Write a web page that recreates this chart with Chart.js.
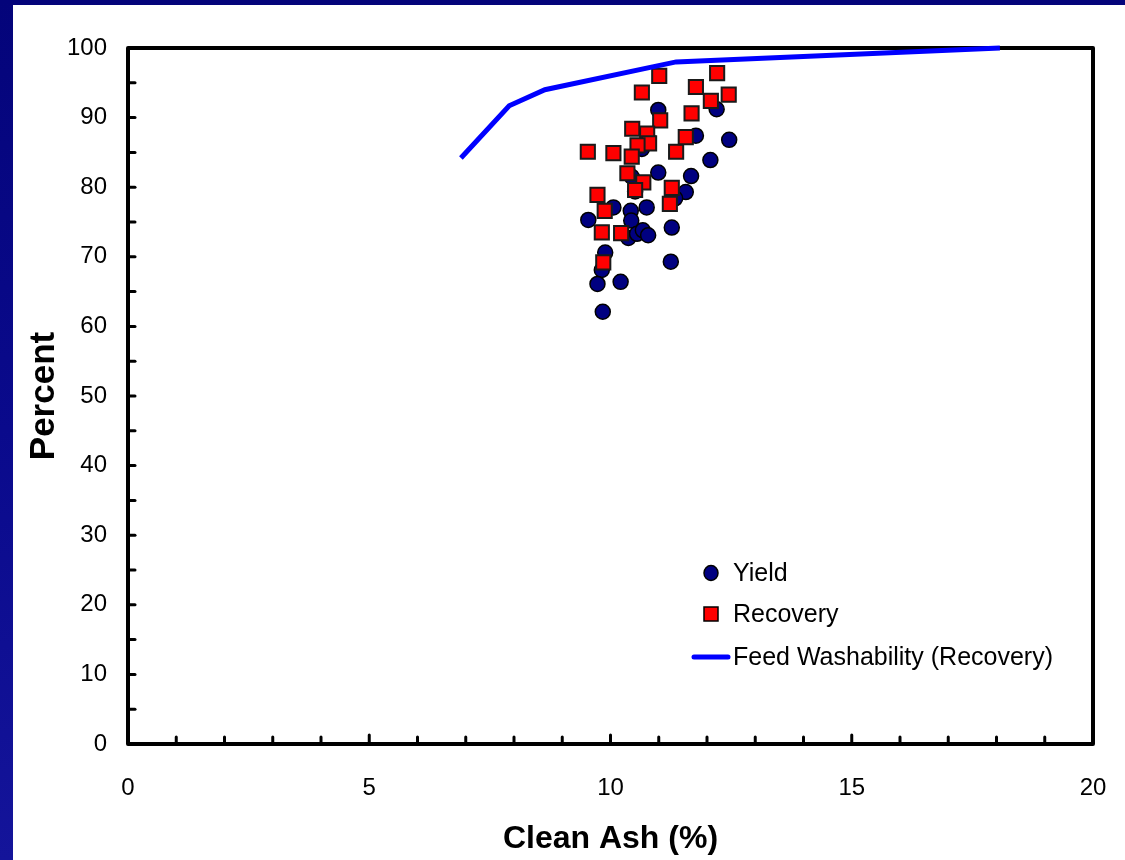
<!DOCTYPE html>
<html>
<head>
<meta charset="utf-8">
<script src="https://cdn.jsdelivr.net/npm/chart.js@4"></script>
<style>
  html, body { margin: 0; padding: 0; background: #fff; }
  canvas { display: block; }
</style>
</head>
<body>
<canvas id="ash-chart" width="1125" height="860"></canvas>
<script>
// Yield points (clean ash %, percent)
const yieldAsh = [10.99, 12.2, 11.77, 12.46, 12.07, 10.78, 10.65, 10.99, 11.67, 10.44, 11.56, 11.34, 10.51, 10.06, 10.75,
    10.42, 9.54, 10.43, 11.27, 10.37, 10.55, 10.67, 10.78, 9.89, 9.82, 9.73, 10.21, 9.84, 11.25];
const yieldPct = [91.1, 91.2, 87.4, 86.8, 83.9, 86.9, 85.5, 82.1, 81.6, 81.5, 79.3, 78.4, 79.4, 77.1, 77.1,
    76.6, 75.3, 75.2, 74.2, 72.7, 73.3, 73.8, 73.1, 70.6, 68.1, 66.1, 66.4, 62.1, 69.3];

// Recovery points
const recoveryAsh = [9.53, 10.06, 10.65, 11.01, 12.21, 11.77, 12.45, 12.08, 11.68, 11.03, 10.45, 10.76, 10.8, 10.56,
    11.36, 11.56, 10.44, 10.35, 10.68, 11.27, 10.51, 9.73, 9.88, 11.23, 9.82, 10.22, 9.85];
const recoveryPct = [85.1, 84.9, 93.6, 96.0, 96.4, 94.4, 93.3, 92.4, 90.6, 89.6, 88.4, 87.7, 86.3, 86.0,
    85.1, 87.2, 84.4, 82.0, 80.7, 79.9, 79.6, 78.9, 76.6, 77.6, 73.5, 73.4, 69.2];

// Feed washability curve
const feedAsh = [6.9, 7.9, 8.64, 11.36, 18.07];
const feedPct = [84.2, 91.7, 94.0, 98.0, 100];

const legendLabels = ['Yield', 'Recovery', 'Feed Washability (Recovery)'];

const FONT = "'Liberation Sans', Arial, sans-serif";

function toPoints(xs, ys) {
    return xs.map((x, i) => ({x: x, y: ys[i]}));
}

const backgroundPlugin = {
    id: 'slideBackground',
    beforeDraw(chart) {
        const ctx = chart.ctx;
        ctx.save();
        const g = ctx.createLinearGradient(0, 0, 0, chart.height);
        g.addColorStop(0, '#04047a');
        g.addColorStop(0.5, '#0a0a8c');
        g.addColorStop(1, '#14149a');
        ctx.fillStyle = g;
        ctx.fillRect(0, 0, chart.width, chart.height);
        ctx.fillStyle = '#ffffff';
        ctx.fillRect(13, 5, chart.width - 13, chart.height - 5);
        ctx.restore();
    }
};

const framePlugin = {
    id: 'frameAndTicks',
    beforeDatasetsDraw(chart) {
        const {ctx, chartArea: a, scales: {x, y}} = chart;
        ctx.save();
        ctx.strokeStyle = '#000';
        ctx.lineCap = 'round';
        ctx.lineWidth = 3;
        for (let v = 1; v < 20; v++) {
            const px = x.getPixelForValue(v);
            const len = v % 5 === 0 ? 9 : 7;
            ctx.beginPath();
            ctx.moveTo(px, a.bottom);
            ctx.lineTo(px, a.bottom - len);
            ctx.stroke();
        }
        for (let v = 5; v < 100; v += 5) {
            const py = y.getPixelForValue(v);
            ctx.beginPath();
            ctx.moveTo(a.left, py);
            ctx.lineTo(a.left + 7, py);
            ctx.stroke();
        }
        ctx.lineWidth = 4;
        ctx.lineCap = 'butt';
        ctx.lineJoin = 'round';
        ctx.strokeRect(a.left, a.top, a.right - a.left, a.bottom - a.top);
        ctx.restore();
    }
};

const legendPlugin = {
    id: 'insideLegend',
    afterDraw(chart) {
        const ctx = chart.ctx;
        const ds = chart.data.datasets;
        ctx.save();
        ctx.font = '25px ' + FONT;
        ctx.fillStyle = '#000';
        ctx.textBaseline = 'middle';
        const rows = [573, 614, 657];
        // circle
        ctx.beginPath();
        ctx.ellipse(711, rows[0], 7, 7.5, 0, 0, Math.PI * 2);
        ctx.fillStyle = ds[0].backgroundColor;
        ctx.fill();
        ctx.lineWidth = 1.5;
        ctx.strokeStyle = '#000';
        ctx.stroke();
        // square
        ctx.fillStyle = ds[1].backgroundColor;
        ctx.fillRect(704, rows[1] - 7, 14, 14);
        ctx.strokeRect(704, rows[1] - 7, 14, 14);
        // line
        ctx.beginPath();
        ctx.moveTo(694, rows[2]);
        ctx.lineTo(728, rows[2]);
        ctx.lineWidth = 5;
        ctx.lineCap = 'round';
        ctx.strokeStyle = ds[2].borderColor;
        ctx.stroke();
        ctx.fillStyle = '#000';
        legendLabels.forEach((t, i) => ctx.fillText(t, 733, rows[i] + 1));
        ctx.restore();
    }
};

const ctx = document.getElementById('ash-chart').getContext('2d');
const chart = new Chart(ctx, {
    type: 'scatter',
    data: {
        datasets: [
            {
                label: legendLabels[0],
                data: toPoints(yieldAsh, yieldPct),
                backgroundColor: '#000080',
                borderColor: '#000000',
                borderWidth: 1.5,
                pointStyle: 'circle',
                pointRadius: 7.5,
                order: 2
            },
            {
                label: legendLabels[1],
                data: toPoints(recoveryAsh, recoveryPct),
                backgroundColor: '#ff0000',
                borderColor: '#1a1a1a',
                borderWidth: 2,
                pointStyle: 'rect',
                pointRadius: 10,
                order: 1
            },
            {
                label: legendLabels[2],
                type: 'line',
                data: toPoints(feedAsh, feedPct),
                borderColor: '#0000ff',
                borderWidth: 5,
                pointRadius: 0,
                tension: 0,
                fill: false,
                clip: false,
                order: 0
            }
        ]
    },
    options: {
        responsive: false,
        animation: false,
        layout: {
            padding: {top: 48, right: 32, left: 0, bottom: 0}
        },
        plugins: {
            legend: {display: false},
            tooltip: {enabled: false}
        },
        scales: {
            x: {
                type: 'linear',
                min: 0,
                max: 20,
                ticks: {
                    stepSize: 5,
                    color: '#000',
                    padding: 30,
                    font: {family: FONT, size: 24}
                },
                grid: {display: false, drawTicks: false},
                border: {display: false},
                title: {
                    display: true,
                    text: 'Clean Ash (%)',
                    color: '#000',
                    padding: {top: 0, bottom: 2},
                    font: {family: FONT, size: 32, weight: 'bold'}
                },
                afterFit(scale) {
                    scale.height = 116;
                    scale.paddingLeft = 0;
                    scale.paddingRight = 0;
                }
            },
            y: {
                min: 0,
                max: 100,
                ticks: {
                    stepSize: 10,
                    color: '#000',
                    padding: 21,
                    font: {family: FONT, size: 24}
                },
                grid: {display: false, drawTicks: false},
                border: {display: false},
                title: {
                    display: true,
                    text: 'Percent',
                    color: '#000',
                    padding: {top: 23, bottom: 0},
                    font: {family: FONT, size: 35, weight: 'bold'}
                },
                afterFit(scale) {
                    scale.width = 128;
                    scale.paddingTop = 0;
                    scale.paddingBottom = 0;
                }
            }
        }
    },
    plugins: [backgroundPlugin, framePlugin, legendPlugin]
});
</script>
</body>
</html>
